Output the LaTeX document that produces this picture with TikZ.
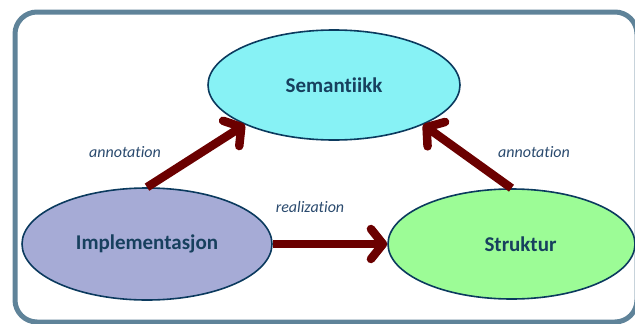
\documentclass[tikz,border=0pt]{standalone}
\usepackage{fontspec}
\setmainfont[Ligatures={NoCommon}]{Carlito}
\usetikzlibrary{shapes.geometric,arrows.meta}
\definecolor{framec}{HTML}{5F8399}
\definecolor{outl}{HTML}{0B3A5E}
\definecolor{txtc}{HTML}{17405E}
\definecolor{lblc}{HTML}{2A4A6E}
\definecolor{arrc}{HTML}{6B0000}
\definecolor{semf}{HTML}{87F2F5}
\definecolor{impf}{HTML}{A6ABD6}
\definecolor{strf}{HTML}{9CFC96}
\tikzset{
  blob/.style={ellipse, draw=outl, line width=1.6pt, inner sep=0pt,
    text=txtc, font=\fontsize{21}{24}\selectfont\bfseries},
  bigarrow/.style={draw=arrc, line width=8.5pt, line cap=butt,
    -{Straight Barb[round, length=12pt, width=30pt, line width=8.5pt]}},
  lbl/.style={text=lblc, font=\fontsize{16}{19}\selectfont\itshape, inner sep=0pt}
}
\begin{document}
\begin{tikzpicture}[x=1pt,y=-1pt]
\useasboundingbox (0,0) rectangle (635,324);
\draw[framec, line width=5pt, rounded corners=22pt] (15,12) rectangle (637,322);
\node[blob, fill=semf, minimum width=252pt, minimum height=110pt] (sem) at (334,85) {Semantiikk};
\node[blob, fill=impf, minimum width=250pt, minimum height=112pt] (imp) at (147,244) {Implementasjon};
\node[blob, fill=strf, minimum width=247pt, minimum height=110pt] (str) at (511.5,244) {\hspace*{18pt}Struktur};
\draw[bigarrow] (imp.north) -- (sem.204);
\draw[bigarrow] (str.north) -- (sem.336);
\draw[bigarrow] (imp.east) -- (str.west);
\node[lbl] (l1) at (125,152) {annotation};
\node[lbl] (l2) at (534,152) {annotation};
\node[lbl] (l3) at (310,207) {realization};
\end{tikzpicture}
\end{document}
